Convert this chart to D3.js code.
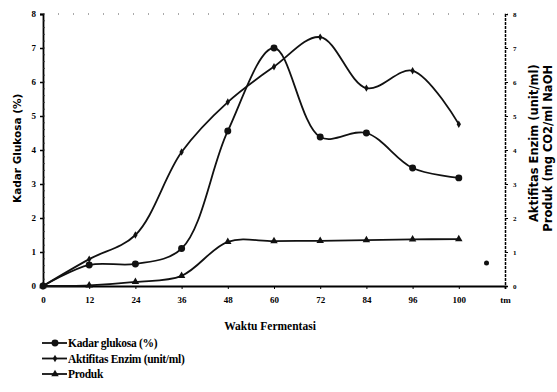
<!DOCTYPE html>
<html>
<head>
<meta charset="utf-8">
<script src="https://cdn.jsdelivr.net/npm/d3@7"></script>
<style>
  body { margin: 0; background: #fff; }
  svg { display: block; }
</style>
</head>
<body>
<div id="chart"></div>
<script>
const categories = ['0', '12', '24', '36', '48', '60', '72', '84', '96', '100', 'tm'];
const glukosa = [0, 0.62, 0.65, 1.1, 4.56, 7.0, 4.38, 4.5, 3.47, 3.18];
const enzim = [0, 0.79, 1.5, 3.94, 5.41, 6.45, 7.32, 5.82, 6.33, 4.76];
const produk = [0, 0.02, 0.12, 0.3, 1.3, 1.32, 1.33, 1.35, 1.37, 1.38];
const strayPoint = { index: 9.6, value: 0.68 };
const yTicks = [0, 1, 2, 3, 4, 5, 6, 7, 8];

const width = 557;
const height = 392;
const margins = { top: 14, right: 52, bottom: 106, left: 43 };

const svg = d3.select('#chart')
  .append('svg')
  .attr('width', width)
  .attr('height', height);

const xScale = d3.scaleLinear([0, categories.length - 1], [margins.left, width - margins.right]);
const yScale = d3.scaleLinear([0, 8], [height - margins.bottom, margins.top]);

const serif = 'Liberation Serif, DejaVu Serif, serif';
const sans = 'DejaVu Sans, sans-serif';

// faint dotted top border
svg.append('line')
  .attr('x1', margins.left).attr('x2', width - margins.right)
  .attr('y1', yScale(8)).attr('y2', yScale(8))
  .attr('stroke', '#555')
  .attr('stroke-width', 1)
  .attr('stroke-dasharray', '1,14');

// left axis
const leftAxis = svg.append('g')
  .attr('transform', `translate(${margins.left},0)`)
  .call(d3.axisLeft(yScale).tickValues(yTicks).tickSize(3).tickFormat(d3.format('d')));
leftAxis.select('.domain').attr('stroke-width', 1.8);
leftAxis.selectAll('.tick line').attr('stroke-width', 1.5);
leftAxis.selectAll('text')
  .attr('font-family', serif).attr('font-weight', 'bold').attr('font-size', 9).attr('x', -7);
leftAxis.append('g')
  .selectAll('line')
  .data(d3.range(0, 8.01, 0.2))
  .join('line')
  .attr('x1', 0).attr('x2', 2)
  .attr('y1', (d) => yScale(d)).attr('y2', (d) => yScale(d))
  .attr('stroke', '#333').attr('stroke-width', 0.8);

// right axis
const rightAxis = svg.append('g')
  .attr('transform', `translate(${width - margins.right},0)`)
  .call(d3.axisRight(yScale).tickValues(yTicks).tickSize(3).tickFormat(d3.format('d')));
rightAxis.select('.domain').attr('stroke-width', 1.5).attr('stroke-dasharray', '3,1');
rightAxis.selectAll('text')
  .attr('font-family', serif).attr('font-weight', 'bold').attr('font-size', 7).attr('x', 8);

// bottom axis
const bottomAxis = svg.append('g')
  .attr('transform', `translate(0,${yScale(0)})`)
  .call(d3.axisBottom(xScale)
    .tickValues(d3.range(categories.length))
    .tickSize(3)
    .tickFormat((d) => categories[d]));
bottomAxis.select('.domain').attr('stroke-width', 1.8);
bottomAxis.selectAll('text')
  .attr('font-family', serif).attr('font-weight', 'bold').attr('font-size', 9).attr('y', 11);

// axis titles
svg.append('text')
  .attr('transform', `translate(21,${yScale(4.05)}) rotate(-90)`)
  .attr('text-anchor', 'middle')
  .attr('font-family', sans)
  .attr('font-weight', 'bold')
  .attr('font-size', 10.5)
  .text('Kadar Glukosa (%)');

svg.append('text')
  .attr('transform', `translate(538,${yScale(4.2)}) rotate(-90)`)
  .attr('text-anchor', 'middle')
  .attr('font-family', sans)
  .attr('font-weight', 'bold')
  .attr('font-size', 11.5)
  .text('Aktifitas Enzim (unit/ml)');

svg.append('text')
  .attr('transform', `translate(552,${yScale(4.05)}) rotate(-90)`)
  .attr('text-anchor', 'middle')
  .attr('font-family', sans)
  .attr('font-weight', 'bold')
  .attr('font-size', 11.5)
  .text('Produk (mg CO2/ml NaOH');

svg.append('text')
  .attr('x', 270)
  .attr('y', 330)
  .attr('text-anchor', 'middle')
  .attr('font-family', serif)
  .attr('font-weight', 'bold')
  .attr('font-size', 11.5)
  .text('Waktu Fermentasi');

// series
const series = [
  { name: 'Kadar glukosa (%)', values: glukosa, symbol: d3.symbolCircle, size: 38 },
  { name: 'Aktifitas Enzim (unit/ml)', values: enzim, symbol: d3.symbolDiamond, size: 16 },
  { name: 'Produk', values: produk, symbol: d3.symbolTriangle, size: 24 },
];

const line = d3.line()
  .x((d, i) => xScale(i))
  .y((d) => yScale(d))
  .curve(d3.curveCatmullRom.alpha(0.5));

const plot = svg.append('g');

plot.selectAll('path.series')
  .data(series)
  .join('path')
  .attr('class', 'series')
  .attr('fill', 'none')
  .attr('stroke', '#111')
  .attr('stroke-width', 1.8)
  .attr('d', (d) => line(d.values));

series.forEach((s) => {
  plot.append('g')
    .selectAll('path')
    .data(s.values)
    .join('path')
    .attr('transform', (d, i) => `translate(${xScale(i)},${yScale(d)})`)
    .attr('d', d3.symbol(s.symbol, s.size))
    .attr('fill', '#111');
});

plot.append('circle')
  .attr('cx', xScale(strayPoint.index))
  .attr('cy', yScale(strayPoint.value))
  .attr('r', 2.5)
  .attr('fill', '#111');

// legend
const legend = svg.append('g')
  .attr('transform', 'translate(42,343)')
  .attr('font-family', serif)
  .attr('font-weight', 'bold')
  .attr('font-size', 11.5);

const item = legend.selectAll('g')
  .data(series)
  .join('g')
  .attr('transform', (d, i) => `translate(0,${i * 15.5})`);

item.append('line')
  .attr('x1', 0).attr('x2', 25)
  .attr('stroke', '#111').attr('stroke-width', 1.8);

item.append('path')
  .attr('transform', 'translate(13,0)')
  .attr('d', (d) => d3.symbol(d.symbol, d.size)())
  .attr('fill', '#111');

item.append('text')
  .attr('x', 26)
  .attr('dy', '0.35em')
  .attr('letter-spacing', -0.3)
  .text((d) => d.name);
</script>
</body>
</html>
